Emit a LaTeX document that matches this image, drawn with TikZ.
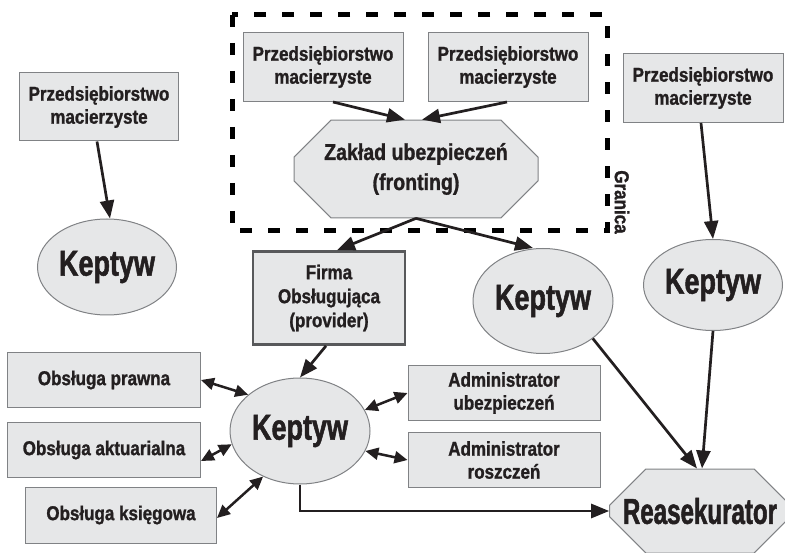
\documentclass[tikz,border=0pt]{standalone}
\usepackage{fontspec}
\setmainfont{Liberation Sans}[FakeStretch=0.85, FakeBold=1.2]
\newfontfamily\keptfont{Liberation Sans}[FakeStretch=0.75, FakeBold=1.4]
\newfontfamily\reasfont{Liberation Sans}[FakeStretch=0.67, FakeBold=1.4]
\usetikzlibrary{arrows.meta,shapes.geometric,shapes.misc}
\definecolor{boxfill}{RGB}{230,231,232}
\definecolor{boxline}{RGB}{128,130,133}
\definecolor{provline}{RGB}{88,89,91}
\definecolor{inkblk}{RGB}{35,31,32}
\tikzset{
  pbox/.style={rectangle, draw=boxline, fill=boxfill, line width=1pt, inner sep=0pt,
    align=center, text=inkblk, font=\fontsize{20}{23}\selectfont\bfseries},
  provbox/.style={pbox, draw=provline, line width=2.7pt, font=\fontsize{20}{24}\selectfont\bfseries},
  kell/.style={ellipse, draw=boxline, fill=boxfill, line width=1pt, inner sep=0pt,
    text=inkblk, font=\fontsize{36}{40}\keptfont\bfseries},
  octa/.style={chamfered rectangle, draw=boxline, fill=boxfill, line width=1pt, inner sep=0pt,
    align=center, text=inkblk},
  gran/.style={text=inkblk, font=\fontsize{20}{23}\selectfont\bfseries, inner sep=0pt},
  bound/.style={draw=black, line width=5pt, dash pattern=on 12pt off 16pt},
  arr/.style={-{Triangle[length=18pt, width=14pt]}, inkblk, line width=2.7pt},
  darr/.style={{Triangle[length=13pt, width=12pt]}-{Triangle[length=13pt, width=12pt]}, inkblk, line width=2.5pt},
}

\begin{document}
\begin{tikzpicture}[x=1pt, y=-1pt]
  \useasboundingbox (0,0) rectangle (785,553);
  % granica (fronting)
  \coordinate (bnw) at (232,15); \coordinate (bse) at (607,231);
  \draw[bound] (bnw) rectangle (bse);
  \node[gran, rotate=-90] (granica) at (622,202) {Granica};
  \node[pbox, minimum width=160pt, minimum height=69pt] (pfa) at (323,67) {Przedsiębiorstwo\\macierzyste};
  \node[pbox, minimum width=160pt, minimum height=69pt] (pfb) at (508,67) {Przedsiębiorstwo\\macierzyste};
  \node[octa, minimum width=244pt, minimum height=85pt, chamfered rectangle xsep=14pt, chamfered rectangle ysep=23pt,
    font=\fontsize{23}{30}\selectfont\bfseries] (zakl) at (416,169) {Zakład ubezpieczeń\\(fronting)};
  % left and right
  \node[pbox, minimum width=159pt, minimum height=68pt] (pl) at (99,107) {Przedsiębiorstwo\\macierzyste};
  \node[kell, minimum width=139pt, minimum height=96pt] (kl) at (107,267) {Keptyw};
  \node[pbox, minimum width=160pt, minimum height=69pt] (pr) at (703,88) {Przedsiębiorstwo\\macierzyste};
  \node[kell, minimum width=139pt, minimum height=91pt] (kr) at (713,285) {Keptyw};
  % middle
  \node[provbox, minimum width=152pt, minimum height=93pt] (firma) at (329,298) {Firma\\Obsługująca\\(provider)};
  \node[kell, minimum width=140pt, minimum height=105pt] (km) at (543,301) {Keptyw};
  \node[kell, minimum width=140pt, minimum height=106pt] (kc) at (300,431) {Keptyw};
  % service boxes
  \node[pbox, minimum width=193pt, minimum height=55pt] (prawna) at (104,380) {Obsługa prawna};
  \node[pbox, minimum width=193pt, minimum height=55pt] (aktu) at (104,450) {Obsługa aktuarialna};
  \node[pbox, minimum width=191pt, minimum height=56pt] (ksieg) at (121,515) {Obsługa księgowa};
  \node[pbox, minimum width=192pt, minimum height=55pt] (admu) at (504,393) {Administrator\\ubezpieczeń};
  \node[pbox, minimum width=192pt, minimum height=55pt] (admr) at (504,460) {Administrator\\roszczeń};
  \node[octa, minimum width=175pt, minimum height=84pt, chamfered rectangle xsep=22pt, chamfered rectangle ysep=23pt,
    font=\fontsize{36}{40}\reasfont\bfseries] (reas) at (700,511) {Reasekurator};
  % connectors
  \draw[arr] ([xshift=-2pt]pl.south) -- ([xshift=3pt]kl.north);
  \draw[arr] ([xshift=-2pt]pr.south) -- (kr.north);
  \draw[arr] ([xshift=10pt]pfa.south) -- ([xshift=-11pt]zakl.north);
  \draw[arr] ([xshift=-1pt]pfb.south) -- ([xshift=6pt]zakl.north);
  \draw[arr] (zakl.south) -- ([xshift=8pt]firma.north);
  \draw[arr] (zakl.south) -- ([xshift=-10pt]km.north);
  \draw[arr] ([xshift=-3pt]firma.south) -- (kc.north);
  \draw[darr] (prawna.east) -- (kc.145);
  \draw[darr] ([yshift=-11pt]aktu.east) -- (kc.191);
  \draw[darr] ([yshift=-3pt]ksieg.east) -- (kc.231);
  \draw[darr] (kc.18) -- (admu.west);
  \draw[darr] (kc.-17) -- (admr.west);
  \draw[arr] (kc.south) |- (reas.west);
  \draw[arr] (km.-37) -- ([xshift=-3pt]reas.north);
  \draw[arr] (kr.south) -- ([xshift=2pt]reas.north);
\end{tikzpicture}
\end{document}
